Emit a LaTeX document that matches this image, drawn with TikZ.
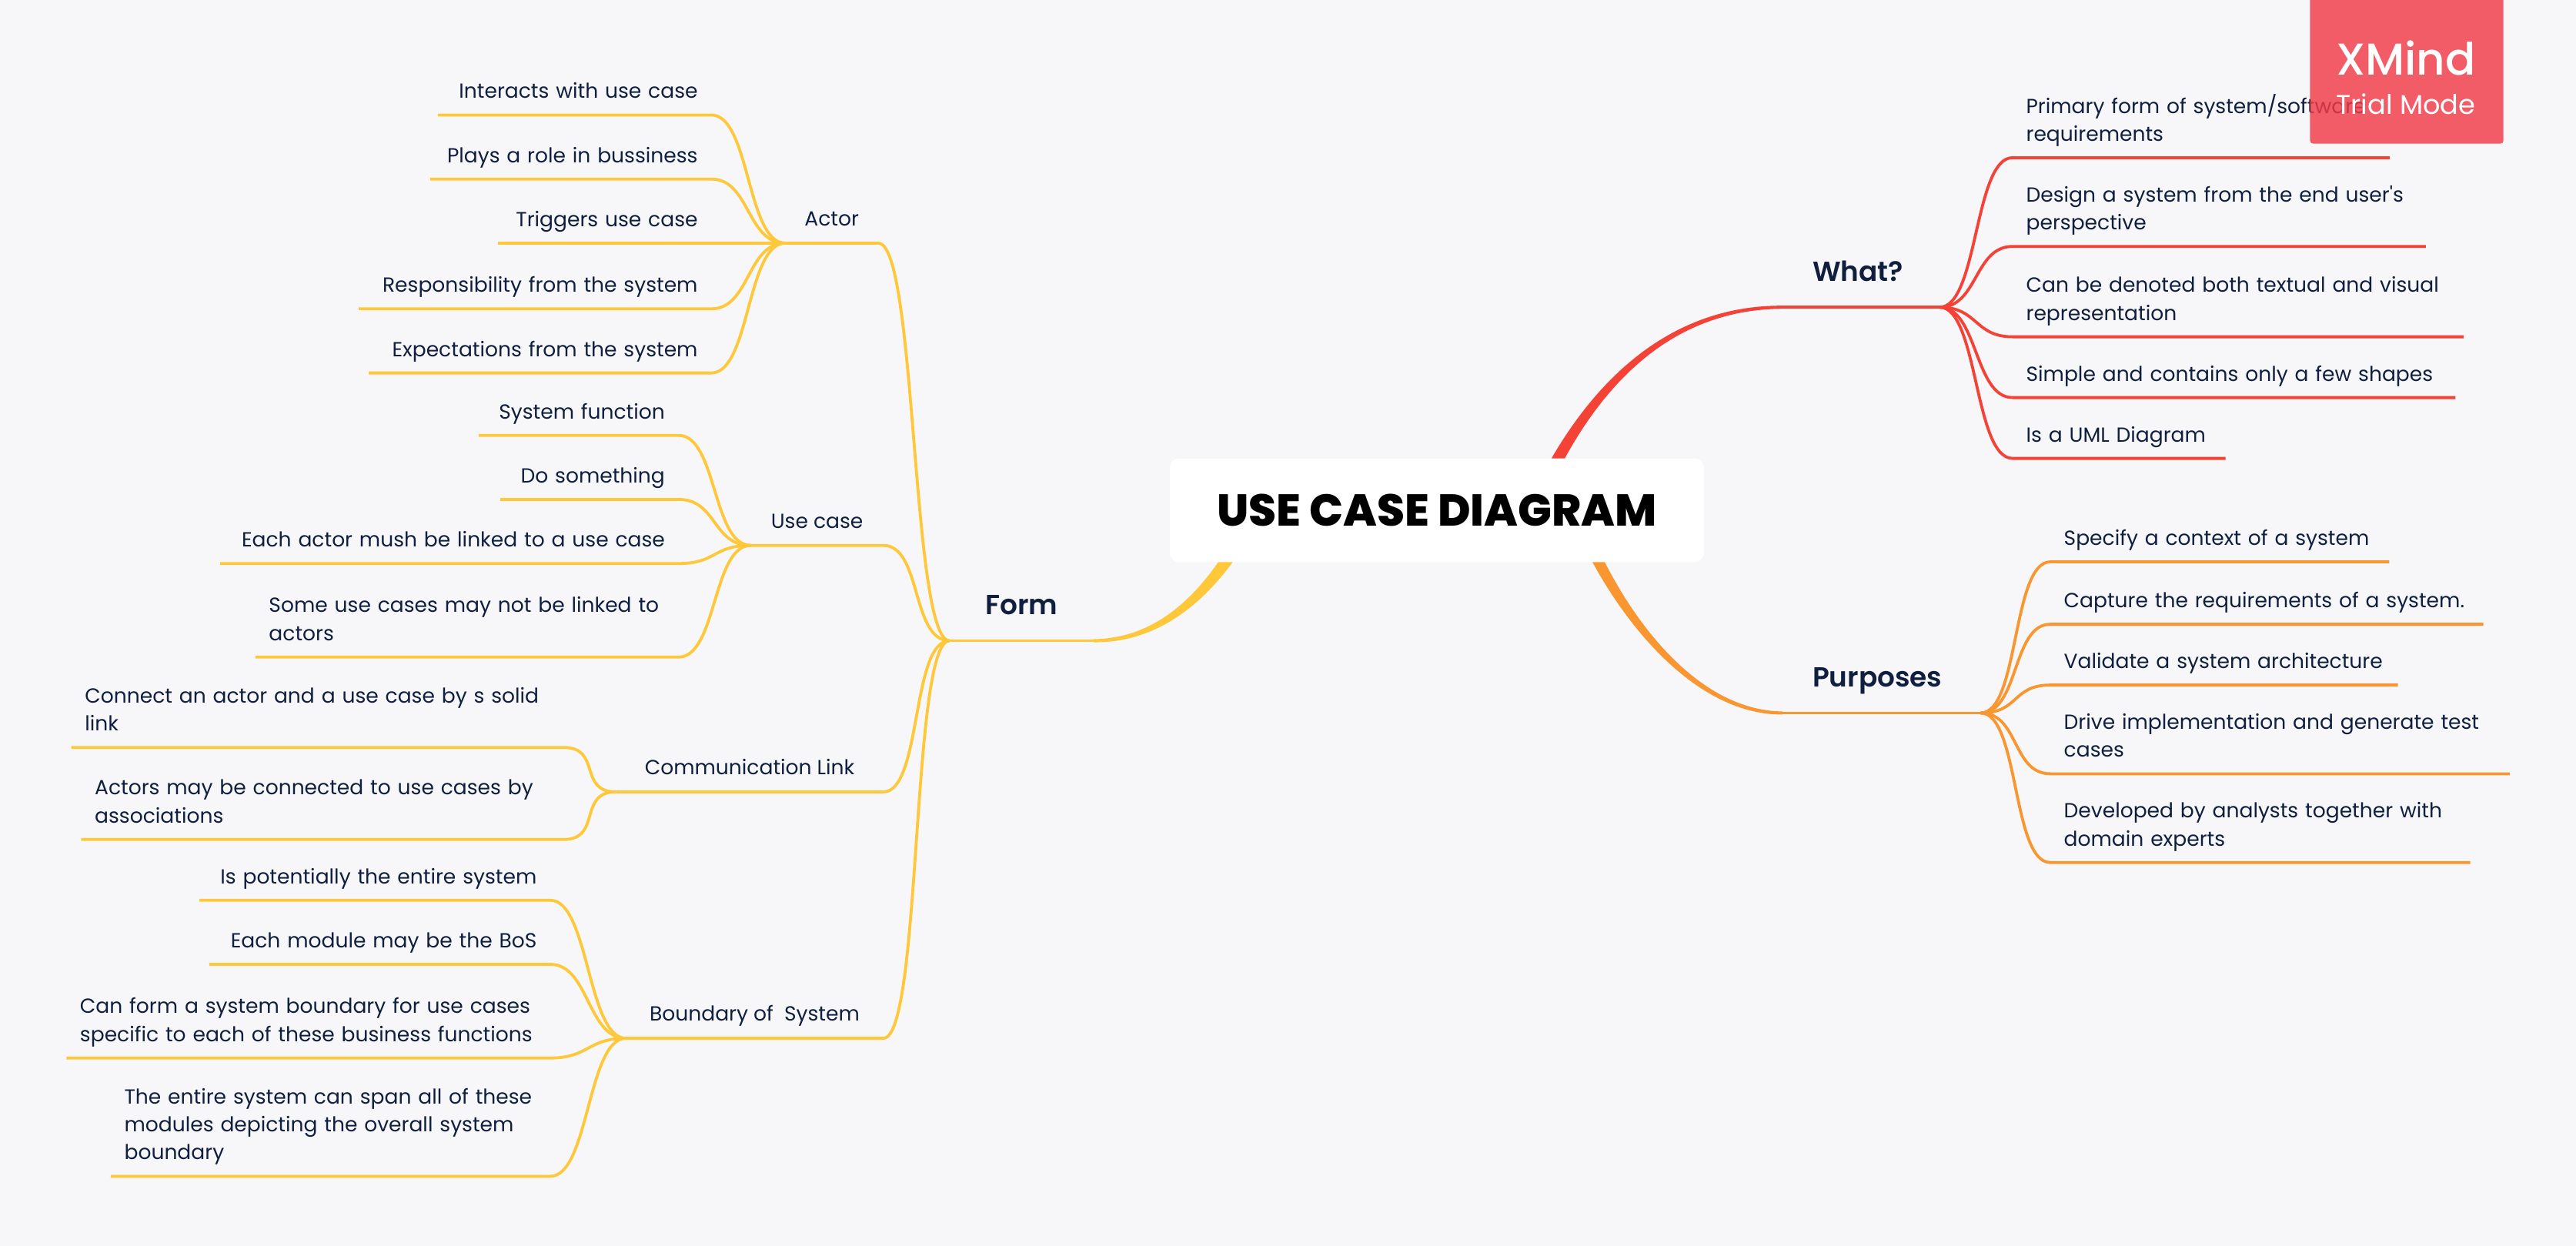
\documentclass[tikz,border=0pt]{standalone}
\usepackage{fontspec}
\newfontfamily\bodyfont{Poppins}
\newfontfamily\titlefont{Poppins ExtraBold}
\newfontfamily\mainfont{Poppins SemiBold}
\newfontfamily\trialfont{Poppins Medium}
\usepackage{tikz}
\usetikzlibrary{backgrounds}
\definecolor{pagebg}{HTML}{F7F7FA}
\definecolor{ink}{HTML}{0F1F3D}
\definecolor{redline}{HTML}{F44336}
\definecolor{orangeline}{HTML}{F99630}
\definecolor{yellowline}{HTML}{FFC83A}
\definecolor{trialred}{HTML}{F13A46}
\tikzset{
    leaf/.style={font=\bodyfont\fontsize{7.55}{10.33}\selectfont, text=ink, inner xsep=0.17cm, inner ysep=0.10cm, execute at end node=\strut, align=left},
    leafr/.style={leaf, align=right},
    topic/.style={leaf, inner xsep=0pt, inner ysep=0.11cm},
    mainbranch/.style={font=\mainfont\fontsize{10.2}{12}\selectfont, text=ink, inner xsep=0pt, inner ysep=0.33cm, text depth=0pt},
    rootbox/.style={fill=white, rounded corners=0.12cm, minimum width=6.94cm, minimum height=1.347cm, font=\titlefont\fontsize{16.5}{18}\selectfont, text=black},
    trialbox/.style={fill=trialred, fill opacity=0.82, rounded corners=0.04cm, minimum width=2.513cm, minimum height=1.96cm, inner sep=0pt},
    twig/.style={line width=0.038cm, line join=round},
    branch/.style={to path={.. controls +(0.5,0) and +(-0.5,0) .. (\tikztotarget)}}
}
\begin{document}
\begin{tikzpicture}
    \useasboundingbox (0,0) rectangle (33.47,-16.19);

    \node[rootbox] (root) at (18.67,-6.63) {USE CASE DIAGRAM};

    \node[mainbranch, minimum width=1.857cm, anchor=south west] (form) at (12.338,-8.325) {Form};
    \node[mainbranch, inner xsep=0.384cm, text width=1.259cm, align=left, anchor=south west] (what) at (23.160,-3.992) {What?};
    \node[mainbranch, inner xsep=0.384cm, text width=1.793cm, align=left, anchor=south west] (purposes) at (23.160,-9.264) {Purposes};

    \node[topic, minimum width=1.195cm, anchor=south west] (actor) at (10.203,-3.159) {Actor};
    \node[topic, minimum width=1.708cm, anchor=south west] (usecase) at (9.755,-7.087) {Use case};
    \node[topic, minimum width=3.458cm, anchor=south west] (commlink) at (8.005,-10.289) {Communication Link};
    \node[topic, minimum width=3.330cm, anchor=south west] (boundary) at (8.133,-13.491) {Boundary of\ \ System};

    \node[leafr, text width=3.200cm, anchor=south east] (interacts) at (9.243,-1.494) {Interacts with use case};
    \node[leafr, text width=3.300cm, anchor=south east] (plays) at (9.243,-2.327) {Plays a role in bussiness};
    \node[leafr, text width=2.420cm, anchor=south east] (triggers) at (9.243,-3.159) {Triggers use case};
    \node[leafr, text width=4.227cm, anchor=south east] (responsibility) at (9.243,-4.013) {Responsibility from the system};
    \node[leafr, text width=4.098cm, anchor=south east] (expectations) at (9.243,-4.846) {Expectations from the system};

    \node[leafr, text width=2.241cm, anchor=south east] (sysfunction) at (8.816,-5.657) {System function};
    \node[leafr, text width=1.964cm, anchor=south east] (dosomething) at (8.816,-6.489) {Do something};
    \node[leafr, text width=5.600cm, anchor=south east] (eachactor) at (8.816,-7.322) {Each actor mush be linked to a use case};
    \node[leaf, text width=5.144cm, anchor=south east] (someuse) at (8.816,-8.538) {Some use cases may not be linked to\\actors};

    \node[leaf, text width=6.041cm, anchor=south east] (connect) at (7.322,-9.712) {Connect an actor and a use case by s solid\\link};
    \node[leaf, text width=5.913cm, anchor=south east] (actorsmay) at (7.322,-10.908) {Actors may be connected to use cases by\\associations};

    \node[leafr, text width=4.205cm, anchor=south east] (potentially) at (7.151,-11.698) {Is potentially the entire system};
    \node[leafr, text width=4.077cm, anchor=south east] (eachmodule) at (7.151,-12.530) {Each module may be the BoS};
    \node[leaf, text width=5.934cm, anchor=south east] (canform) at (7.151,-13.747) {Can form a system boundary for use cases\\specific to each of these business functions};
    \node[leaf, text width=5.358cm, anchor=south east] (entire) at (7.151,-15.284) {The entire system can span all of these\\modules depicting the overall system\\boundary};

    \node[leaf, text width=4.547cm, anchor=south west] (primary) at (26.149,-2.049) {Primary form of system/software\\requirements};
    \node[leaf, text width=5.016cm, anchor=south west] (design) at (26.149,-3.202) {Design a system from the end user's\\perspective};
    \node[leaf, text width=5.507cm, anchor=south west] (denoted) at (26.149,-4.376) {Can be denoted both textual and visual\\representation};
    \node[leaf, text width=5.400cm, anchor=south west] (simple) at (26.149,-5.166) {Simple and contains only a few shapes};
    \node[leaf, text width=2.412cm, anchor=south west] (uml) at (26.149,-5.956) {Is a UML Diagram};

    \node[leaf, text width=4.050cm, anchor=south west] (context) at (26.640,-7.300) {Specify a context of a system};
    \node[leaf, text width=5.272cm, anchor=south west] (capture) at (26.640,-8.111) {Capture the requirements of a system.};
    \node[leaf, text width=4.162cm, anchor=south west] (validate) at (26.640,-8.901) {Validate a system architecture};
    \node[leaf, text width=5.614cm, anchor=south west] (drive) at (26.640,-10.054) {Drive implementation and generate test\\cases};
    \node[leaf, text width=5.102cm, anchor=south west] (developed) at (26.640,-11.207) {Developed by analysts together with\\domain experts};

    \begin{scope}[on background layer]
    \fill[pagebg] (0,0) rectangle (33.47,-16.19);
    \fill[redline] ([shift={(0.995,-0.364)}]root.center) .. controls (20.325,-5.297) and (21.453,-3.962) .. ([yshift=0.02cm]what.south west)
        -- ([yshift=-0.02cm]what.south west) .. controls (21.453,-4.022) and (20.445,-5.377) .. ([shift={(1.155,-0.464)}]root.center) -- cycle;
    \fill[orangeline] ([shift={(1.795,0.266)}]root.center) .. controls (20.862,-7.635) and (21.880,-9.234) .. ([yshift=0.02cm]purposes.south west)
        -- ([yshift=-0.02cm]purposes.south west) .. controls (21.880,-9.294) and (20.762,-7.735) .. ([shift={(1.635,0.186)}]root.center) -- cycle;
    \fill[yellowline] ([shift={(-2.42,0.063)}]root.center) .. controls (15.639,-7.848) and (14.942,-8.295) .. ([yshift=0.02cm]form.south east)
        -- ([yshift=-0.02cm]form.south east) .. controls (14.942,-8.355) and (15.739,-7.948) .. ([shift={(-2.26,-0.037)}]root.center) -- cycle;
    \end{scope}

    \draw[twig, yellowline] (form.south west) -- (form.south east);
    \draw[twig, redline] (what.south west) -- (what.south east);
    \draw[twig, orangeline] (purposes.south west) -- (purposes.south east);

    \draw[twig, yellowline, branch] (actor.south west) -- (actor.south east) to (form.south west);
    \draw[twig, yellowline, branch] (usecase.south west) -- (usecase.south east) to (form.south west);
    \draw[twig, yellowline, branch] (commlink.south west) -- (commlink.south east) to (form.south west);
    \draw[twig, yellowline, branch] (boundary.south west) -- (boundary.south east) to (form.south west);

    \draw[twig, yellowline, branch] (interacts.south west) -- (interacts.south east) to (actor.south west);
    \draw[twig, yellowline, branch] (plays.south west) -- (plays.south east) to (actor.south west);
    \draw[twig, yellowline, branch] (triggers.south west) -- (triggers.south east) to (actor.south west);
    \draw[twig, yellowline, branch] (responsibility.south west) -- (responsibility.south east) to (actor.south west);
    \draw[twig, yellowline, branch] (expectations.south west) -- (expectations.south east) to (actor.south west);

    \draw[twig, yellowline, branch] (sysfunction.south west) -- (sysfunction.south east) to (usecase.south west);
    \draw[twig, yellowline, branch] (dosomething.south west) -- (dosomething.south east) to (usecase.south west);
    \draw[twig, yellowline, branch] (eachactor.south west) -- (eachactor.south east) to (usecase.south west);
    \draw[twig, yellowline, branch] (someuse.south west) -- (someuse.south east) to (usecase.south west);

    \draw[twig, yellowline, branch] (connect.south west) -- (connect.south east) to (commlink.south west);
    \draw[twig, yellowline, branch] (actorsmay.south west) -- (actorsmay.south east) to (commlink.south west);

    \draw[twig, yellowline, branch] (potentially.south west) -- (potentially.south east) to (boundary.south west);
    \draw[twig, yellowline, branch] (eachmodule.south west) -- (eachmodule.south east) to (boundary.south west);
    \draw[twig, yellowline, branch] (canform.south west) -- (canform.south east) to (boundary.south west);
    \draw[twig, yellowline, branch] (entire.south west) -- (entire.south east) to (boundary.south west);

    \draw[twig, redline, branch] (what.south east) to (primary.south west) -- (primary.south east);
    \draw[twig, redline, branch] (what.south east) to (design.south west) -- (design.south east);
    \draw[twig, redline, branch] (what.south east) to (denoted.south west) -- (denoted.south east);
    \draw[twig, redline, branch] (what.south east) to (simple.south west) -- (simple.south east);
    \draw[twig, redline, branch] (what.south east) to (uml.south west) -- (uml.south east);

    \draw[twig, orangeline, branch] (purposes.south east) to (context.south west) -- (context.south east);
    \draw[twig, orangeline, branch] (purposes.south east) to (capture.south west) -- (capture.south east);
    \draw[twig, orangeline, branch] (purposes.south east) to (validate.south west) -- (validate.south east);
    \draw[twig, orangeline, branch] (purposes.south east) to (drive.south west) -- (drive.south east);
    \draw[twig, orangeline, branch] (purposes.south east) to (developed.south west) -- (developed.south east);

    \node[trialbox, anchor=north west] (trial) at (30.007,0.1) {};
    \node[anchor=base, text=white, font=\trialfont\fontsize{16.5}{18}\selectfont, inner sep=0pt] (xmind) at (31.26,-0.97) {XMind};
    \node[anchor=base, text=white, font=\bodyfont\fontsize{10}{12}\selectfont, inner sep=0pt] (trialmode) at (31.26,-1.48) {Trial Mode};
\end{tikzpicture}
\end{document}
